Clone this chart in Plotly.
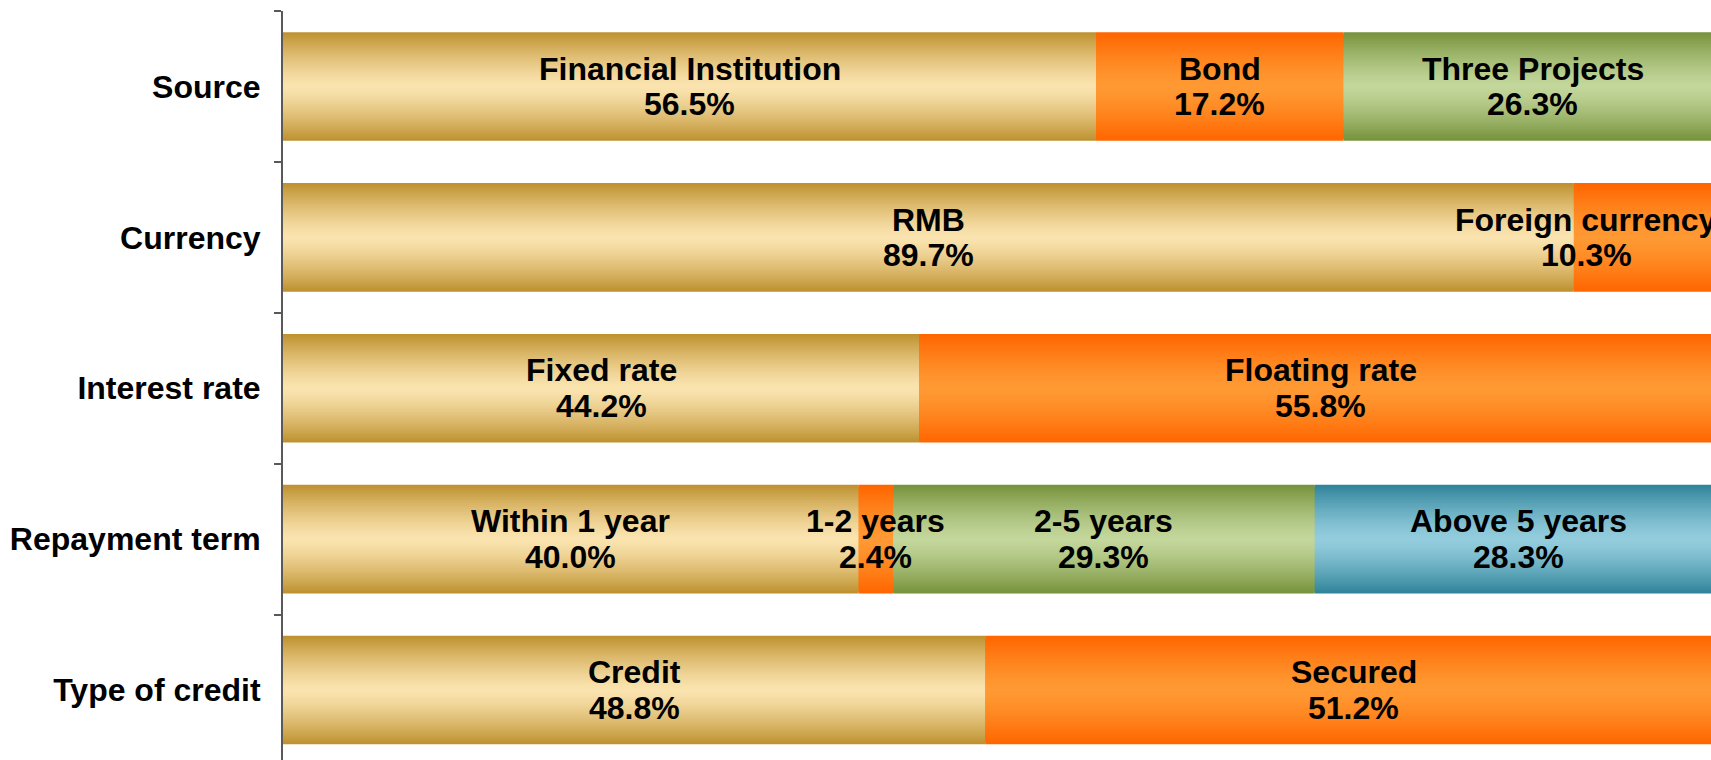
import plotly.graph_objects as go

# ---------------- data ----------------
categories = ["Source", "Currency", "Interest rate", "Repayment term", "Type of credit"]

source_names = ["Financial Institution", "Bond", "Three Projects"]
source_vals = [56.5, 17.2, 26.3]

currency_names = ["RMB", "Foreign currency"]
currency_vals = [89.7, 10.3]

interest_names = ["Fixed rate", "Floating rate"]
interest_vals = [44.2, 55.8]

term_names = ["Within 1 year", "1-2 years", "2-5 years", "Above 5 years"]
term_vals = [40.0, 2.4, 29.3, 28.3]

credit_names = ["Credit", "Secured"]
credit_vals = [48.8, 51.2]

groups = [
    (categories[0], source_names, source_vals),
    (categories[1], currency_names, currency_vals),
    (categories[2], interest_names, interest_vals),
    (categories[3], term_names, term_vals),
    (categories[4], credit_names, credit_vals),
]

# gradient palettes (edge colour, centre colour) by segment order
palette = [
    ((191, 146, 48), (250, 227, 174)),   # gold
    ((255, 102, 0), (255, 153, 51)),     # orange
    ((119, 147, 60), (195, 214, 155)),   # green
    ((49, 132, 155), (147, 205, 221)),   # blue
]

FONT = "Liberation Sans, Arial, sans-serif"
FSIZE = 32
LINE_GAP = 35.7
BAR_W = 0.72
N_LAYERS = 32

FIG_W, FIG_H = 1730, 760
M_L, M_T = 283, 11
PX_PER_UNIT = 14.39              # pixels per percentage point
X_MAX = (FIG_W - M_L) / PX_PER_UNIT

# flatten segments
seg_y, seg_base, seg_val, seg_col, seg_name = [], [], [], [], []
for cat, names, vals in groups:
    start = 0.0
    for i, (n, v) in enumerate(zip(names, vals)):
        seg_y.append(cat)
        seg_base.append(start)
        seg_val.append(v)
        seg_col.append(i)
        seg_name.append(n)
        start += v


def mix(c0, c1, t):
    return "rgb(%d,%d,%d)" % tuple(round(a + (b - a) * t) for a, b in zip(c0, c1))


fig = go.Figure()
for k in range(N_LAYERS):
    f = k / (N_LAYERS - 1)
    t = 1 - (1 - f) ** 1.3
    w = BAR_W * (1 - k / N_LAYERS)
    colors = [mix(palette[c][0], palette[c][1], t) for c in seg_col]
    fig.add_trace(go.Bar(
        y=seg_y, x=seg_val, base=seg_base, orientation="h",
        width=w, marker=dict(color=colors, line=dict(width=0)),
        showlegend=False, hoverinfo="skip",
    ))

# labels (name on first line, percentage on second)
lab_font = dict(family=FONT, size=FSIZE, color="black", weight="bold")
for y, b, v, n in zip(seg_y, seg_base, seg_val, seg_name):
    center = b + v / 2
    est_w = max(len(n), 6) * 0.53 * FSIZE / PX_PER_UNIT
    if center + est_w / 2 > 100:
        center = 100 - est_w / 2
    for txt, shift in ((n, LINE_GAP / 2), (f"{v:.1f}%", -LINE_GAP / 2)):
        fig.add_annotation(
            x=center, y=y, xref="x", yref="y", yshift=shift,
            text=txt, showarrow=False, font=lab_font,
            xanchor="center", yanchor="middle",
        )

fig.update_layout(
    width=FIG_W, height=FIG_H, autosize=False,
    margin=dict(l=M_L, r=0, t=M_T, b=0, autoexpand=False),
    paper_bgcolor="white", plot_bgcolor="white",
    barmode="overlay",
    xaxis=dict(range=[0, X_MAX], visible=False, showgrid=False, zeroline=False),
    yaxis=dict(
        type="category", categoryorder="array", categoryarray=categories,
        range=[-0.5 + (FIG_H - M_T) / 150.9, -0.5],
        showline=True, linecolor="#595959", linewidth=2,
        ticks="outside", ticklen=7, tickcolor="#595959", tickwidth=2,
        tickson="boundaries", showgrid=False, zeroline=False,
        ticklabelstandoff=14, automargin=False,
        tickfont=dict(family=FONT, size=FSIZE, color="black", weight="bold"),
    ),
)

fig.write_html(
    "out.html",
    config={"displayModeBar": False},
    post_script="document.body.style.margin='0';document.body.style.overflow='hidden';",
)
